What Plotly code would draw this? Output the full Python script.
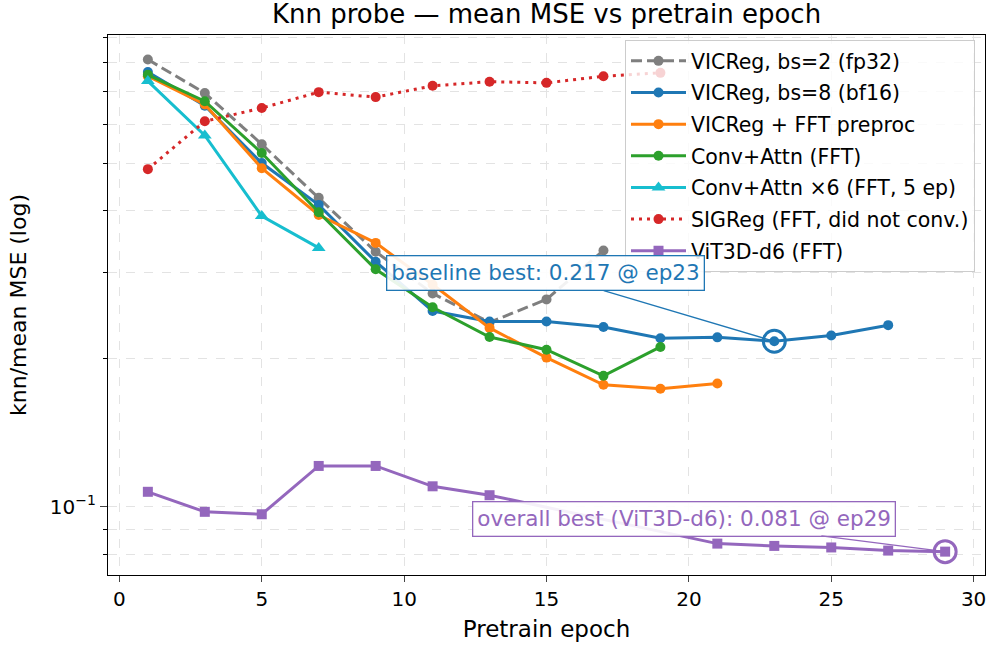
import plotly.graph_objects as go
import numpy as np

# ---- data ----
ep_gray = [1, 3, 5, 7, 9, 11, 13, 15, 17]
mse_gray = [0.812, 0.694, 0.546, 0.425, 0.330, 0.2715, 0.237, 0.264, 0.332]

ep_blue = [1, 3, 5, 7, 9, 11, 13, 15, 17, 19, 21, 23, 25, 27]
mse_blue = [0.766, 0.654, 0.500, 0.411, 0.315, 0.250, 0.238, 0.238, 0.232, 0.220, 0.221, 0.217, 0.223, 0.234]

ep_orange = [1, 3, 5, 7, 9, 11, 13, 15, 17, 19, 21]
mse_orange = [0.751, 0.658, 0.488, 0.392, 0.344, 0.283, 0.231, 0.201, 0.177, 0.1737, 0.178]

ep_green = [1, 3, 5, 7, 9, 11, 13, 15, 17, 19]
mse_green = [0.756, 0.668, 0.524, 0.397, 0.304, 0.2545, 0.2214, 0.2086, 0.1846, 0.2113]

ep_cyan = [1, 3, 5, 7]
mse_cyan = [0.734, 0.569, 0.390, 0.336]

ep_red = [1, 3, 5, 7, 9, 11, 13, 15, 17, 19]
mse_red = [0.486, 0.608, 0.647, 0.697, 0.681, 0.718, 0.732, 0.728, 0.751, 0.763]

ep_violet = [1, 3, 5, 7, 9, 11, 13, 21, 23, 25, 27, 29]
mse_violet = [0.1072, 0.0976, 0.0965, 0.121, 0.121, 0.110, 0.1055, 0.0841, 0.0832, 0.0826, 0.0814, 0.081]

series_names = [
    "VICReg, bs=2 (fp32)",
    "VICReg, bs=8 (bf16)",
    "VICReg + FFT preproc",
    "Conv+Attn (FFT)",
    "Conv+Attn ×6 (FFT, 5 ep)",
    "SIGReg (FFT, did not conv.)",
    "ViT3D-d6 (FFT)",
]

baseline_best = (23, 0.217)
overall_best = (29, 0.081)

x_ticks = [0, 5, 10, 15, 20, 25, 30]
y_major = [0.1]
y_major_text = ["10<sup>−1</sup>"]
y_minor = [0.08, 0.09, 0.2, 0.3, 0.4, 0.5, 0.6, 0.7, 0.8, 0.9]

# ---- style ----
FONT = "DejaVu Sans"
C_GRAY, C_BLUE, C_ORANGE, C_GREEN = "#7f7f7f", "#1f77b4", "#ff7f0e", "#2ca02c"
C_CYAN, C_RED, C_VIOLET = "#17becf", "#d62728", "#9467bd"
LW = 3
MS = 10

fig = go.Figure()

def add(x, y, name, color, dash="solid", symbol="circle", size=MS, group=""):
    fig.add_trace(go.Scatter(
        x=x, y=y, name=name, mode="lines+markers",
        line=dict(color=color, width=LW, dash=dash),
        marker=dict(color=color, symbol=symbol, size=size),
        legendgroup=group,
    ))

add(ep_gray, mse_gray, series_names[0], C_GRAY, dash="11px,5px", group="g0")
add(ep_blue, mse_blue, series_names[1], C_BLUE, group="g1")
add(ep_orange, mse_orange, series_names[2], C_ORANGE, group="g2")
add(ep_green, mse_green, series_names[3], C_GREEN, group="g3")
add(ep_cyan, mse_cyan, series_names[4], C_CYAN, symbol="triangle-up", size=12, group="g4")
add(ep_red, mse_red, series_names[5], C_RED, dash="3px,5px", group="g5")
add(ep_violet, mse_violet, series_names[6], C_VIOLET, symbol="square", size=10, group="g6")

# highlight rings
fig.add_trace(go.Scatter(
    x=[baseline_best[0]], y=[baseline_best[1]], mode="markers", showlegend=False,
    marker=dict(symbol="circle-open", size=22, color=C_BLUE, line=dict(width=3, color=C_BLUE)),
))
fig.add_trace(go.Scatter(
    x=[overall_best[0]], y=[overall_best[1]], mode="markers", showlegend=False,
    marker=dict(symbol="circle-open", size=22, color=C_VIOLET, line=dict(width=3, color=C_VIOLET)),
))

fig.add_annotation(
    x=baseline_best[0], y=np.log10(baseline_best[1]), xref="x", yref="y",
    text=f"baseline best: {baseline_best[1]:.3f} @ ep{baseline_best[0]}",
    showarrow=True, arrowhead=0, arrowwidth=1.3, arrowcolor=C_BLUE,
    ax=-229, ay=-68, standoff=0,
    font=dict(family=FONT, size=21.5, color=C_BLUE),
    bgcolor="rgba(255,255,255,0.9)", bordercolor=C_BLUE, borderwidth=1.3, borderpad=4,
)
fig.add_annotation(
    x=overall_best[0], y=np.log10(overall_best[1]), xref="x", yref="y",
    text=f"overall best (ViT3D-d6): {overall_best[1]:.3f} @ ep{overall_best[0]}",
    showarrow=True, arrowhead=0, arrowwidth=1.3, arrowcolor=C_VIOLET,
    ax=-261, ay=-33, standoff=0,
    font=dict(family=FONT, size=21.5, color=C_VIOLET),
    bgcolor="rgba(255,255,255,0.9)", bordercolor=C_VIOLET, borderwidth=1.3, borderpad=4,
)

GRID = "#e3e3e3"
fig.update_layout(
    width=988, height=646,
    margin=dict(l=108, r=3, t=35, b=71),
    paper_bgcolor="white", plot_bgcolor="white",
    font=dict(family=FONT, size=20, color="black"),
    title=dict(text="Knn probe — mean MSE vs pretrain epoch", x=0.5, xref="paper",
               y=1 - 14 / 646, yanchor="middle", font=dict(size=26, family=FONT)),
    showlegend=True,
    legend=dict(x=0.9886, xanchor="right", y=0.9907, yanchor="top",
                bgcolor="rgba(255,255,255,0.8)", bordercolor="#cccccc", borderwidth=1,
                font=dict(size=20.5, family=FONT), tracegroupgap=2, itemwidth=55),
    xaxis=dict(
        range=[-0.4, 30.4], tickvals=x_ticks, ticks="outside", ticklen=6, tickwidth=1.3,
        showline=True, linecolor="black", linewidth=1.3, mirror=True,
        showgrid=True, gridcolor=GRID, griddash="dash", gridwidth=1, zeroline=False,
        title=dict(text="Pretrain epoch", font=dict(size=23), standoff=10),
        tickfont=dict(size=20),
    ),
    yaxis=dict(
        type="log", range=[np.log10(0.0726), np.log10(0.911)],
        tickmode="array", tickvals=y_major, ticktext=y_major_text,
        ticks="outside", ticklen=7, tickwidth=1.3,
        showline=True, linecolor="black", linewidth=1.3, mirror=True,
        showgrid=True, gridcolor=GRID, griddash="dash", gridwidth=1, zeroline=False,
        minor=dict(tickmode="array", tickvals=y_minor, ticks="outside", ticklen=4,
                   tickwidth=1, tickcolor="black",
                   showgrid=True, gridcolor=GRID, griddash="dash", gridwidth=1),
        title=dict(text="knn/mean MSE (log)", font=dict(size=22), standoff=17),
        tickfont=dict(size=20),
    ),
)

fig.write_html("out.html")
